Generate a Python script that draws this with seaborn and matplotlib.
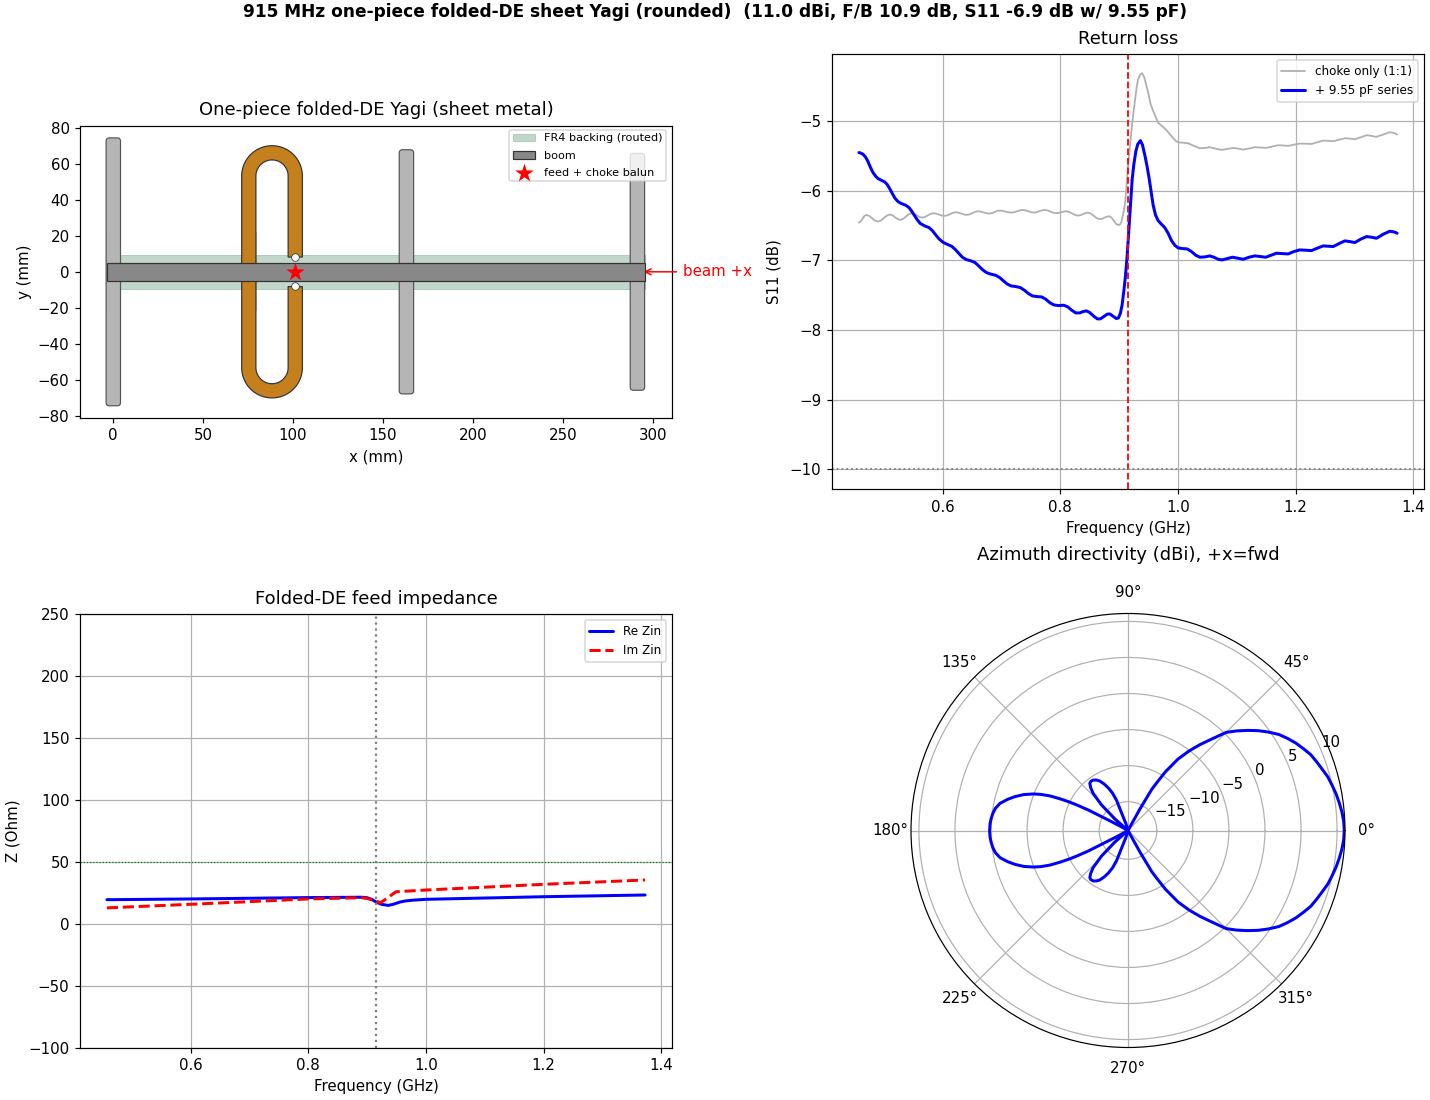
import numpy as np
import matplotlib
matplotlib.use("Agg")
import matplotlib.pyplot as plt
from matplotlib.patches import FancyBboxPatch, Rectangle, PathPatch
from matplotlib.path import Path
import seaborn as sns

W, H, DPI = 1430, 1100, 108

TITLE = "915 MHz one-piece folded-DE sheet Yagi (rounded)  (11.0 dBi, F/B 10.9 dB, S11 -6.9 dB w/ 9.55 pF)"
F0 = 0.915

# straight elements: centre x, half length
elem_x = [0.2, 163.0, 291.3]
elem_half_len = [74.4, 67.8, 65.8]
# routed FR4 pads: left, right
pad_left = [-3.6, 72.0, 158.7, 288.0]
pad_right = [4.5, 79.9, 166.0, 295.7]

# S11 curves
gray_f = [.4575,.4606,.4638,.4669,.470,.475,.480,.485,.490,.495,.500,.505,.510,.5145,.519,.5235,.528,.5328,.5375,.5423,.547,.5515,.556,.5605,.565,.5698,.5745,.5793,.584,
          .5888,.5935,.5983,.603,.6078,.6125,.6173,.622,.6268,.6315,.6363,.641,.6458,.6505,.6553,.660,.6648,.6695,.6743,.679,.6835,.688,.6925,.697,.702,.707,.712,.717,
          .7218,.7265,.7313,.736,.7408,.7455,.7503,.755,.7595,.764,.7685,.773,.778,.783,.788,.793,.797,.8015,.806,.810,.815,.820,.825,.830,.834,.8385,.843,.847,.852,.857,.862,.867,
          .871,.875,.879,.883,.8868,.8905,.8943,.898,.901,.904,.907,.910,.9125,.915,.918,.921,.924,.927,.930,.932,.9355,.939,.9425,.946,.9495,.953,.957,.9605,.966,.973,.980,.986,.992,.996,
          1.000,1.008,1.017,1.027,1.037,1.045,1.054,1.064,1.074,1.084,1.094,1.103,1.111,1.121,1.131,1.140,1.150,1.160,1.170,1.178,1.187,1.197,1.207,1.217,1.227,1.237,1.247,1.255,1.264,1.274,1.284,1.292,1.301,1.311,1.321,1.329,1.337,1.349,1.360,1.367,1.3725]
gray_s = [-6.458,-6.442,-6.403,-6.364,-6.348,-6.362,-6.396,-6.430,-6.444,-6.429,-6.394,-6.358,-6.343,-6.354,-6.382,-6.409,-6.42,-6.406,-6.372,-6.338,-6.324,-6.333,-6.356,-6.378,-6.387,-6.378,-6.356,-6.333,-6.324,
          -6.330,-6.344,-6.357,-6.363,-6.355,-6.337,-6.318,-6.31,-6.316,-6.329,-6.342,-6.348,-6.340,-6.322,-6.304,-6.296,-6.301,-6.313,-6.324,-6.329,-6.323,-6.308,-6.292,-6.286,-6.290,-6.301,-6.311,-6.315,
          -6.309,-6.296,-6.283,-6.277,-6.283,-6.296,-6.309,-6.315,-6.309,-6.296,-6.283,-6.277,-6.284,-6.301,-6.317,-6.324,-6.320,-6.310,-6.300,-6.296,-6.305,-6.327,-6.349,-6.358,-6.352,-6.337,-6.321,-6.315,-6.329,-6.363,-6.396,-6.41,
          -6.404,-6.389,-6.373,-6.367,-6.385,-6.430,-6.474,-6.492,-6.49,-6.444,-6.33,-6.181,-5.93,-5.655,-5.39,-5.129,-4.9,-4.698,-4.5,-4.411,-4.34,-4.316,-4.37,-4.483,-4.6,-4.746,-4.84,-4.914,-5.024,-5.075,-5.129,-5.19,-5.248,-5.285,
          -5.306,-5.313,-5.32,-5.358,-5.392,-5.388,-5.377,-5.398,-5.416,-5.402,-5.387,-5.398,-5.411,-5.395,-5.377,-5.381,-5.387,-5.368,-5.349,-5.352,-5.358,-5.342,-5.325,-5.327,-5.33,-5.306,-5.282,-5.285,-5.291,-5.27,-5.248,-5.254,-5.263,-5.234,-5.205,-5.215,-5.229,-5.195,-5.162,-5.172,-5.196]

blue_f = [.4575,.4600,.4645,.4690,.4730,.4770,.4815,.4860,.4900,.4957,.5013,.5053,.5098,.5144,.5189,.5240,.5297,.5370,.5427,.5473,.5524,.5569,.5620,.5694,.5767,.5824,.5881,.5937,.6005,.6074,.6153,.6210,.6278,.6334,.6402,.6482,.6550,.6606,.6674,.6742,.6822,.6901,.6969,.7026,.7094,.7162,.7241,.7321,.7389,.7457,.7525,.7604,.7684,.7752,.7820,.7888,.7967,.8058,.8126,.8194,.8262,.8330,.8386,.8443,.8500,.8568,.8630,.8681,.8738,.8795,.8840,.8897,.8953,.8987,.9021,.9050,.9078,.9106,.9135,.9163,.9191,.9220,.9248,.9282,.9316,.9361,
          .9396,.9435,.9475,.9509,.9543,.9577,.9617,.9662,.9719,.9775,.9832,.9889,.9945,1.0002,1.0076,1.0155,1.0229,1.0303,1.0371,1.0456,1.0541,1.0609,1.0682,1.0750,1.0835,1.0926,1.1022,1.1108,1.1210,1.1306,1.1402,1.1493,1.1584,1.1674,1.1776,1.1873,1.1969,1.2071,1.2173,1.2270,1.2366,1.2468,1.2553,1.2638,1.2740,1.2837,1.2922,1.3007,1.3103,1.3205,1.3290,1.3375,1.3489,1.3602,1.3670,1.3725]
blue_s = [-5.454,-5.459,-5.478,-5.521,-5.583,-5.664,-5.741,-5.793,-5.827,-5.851,-5.875,-5.908,-5.970,-6.042,-6.109,-6.157,-6.185,-6.209,-6.243,-6.295,-6.362,-6.420,-6.472,-6.506,-6.530,-6.573,-6.635,-6.692,-6.740,-6.769,-6.798,-6.841,-6.903,-6.955,-6.989,-7.008,-7.032,-7.075,-7.132,-7.175,-7.199,-7.214,-7.247,-7.290,-7.338,-7.367,-7.376,-7.391,-7.429,-7.477,-7.510,-7.520,-7.525,-7.558,-7.606,-7.639,-7.649,-7.644,-7.668,-7.716,-7.754,-7.754,-7.735,-7.725,-7.749,-7.802,-7.840,-7.840,-7.806,-7.773,-7.768,-7.802,-7.835,-7.826,-7.759,-7.639,-7.448,-7.233,-6.946,-6.587,-6.205,-5.846,-5.631,-5.440,-5.334,-5.282,
          -5.344,-5.487,-5.655,-5.822,-6.013,-6.205,-6.348,-6.429,-6.482,-6.530,-6.611,-6.716,-6.783,-6.821,-6.831,-6.836,-6.874,-6.927,-6.955,-6.951,-6.936,-6.955,-6.984,-6.994,-6.975,-6.955,-6.970,-6.984,-6.955,-6.936,-6.946,-6.955,-6.927,-6.898,-6.903,-6.908,-6.874,-6.850,-6.855,-6.860,-6.826,-6.793,-6.798,-6.802,-6.759,-6.721,-6.731,-6.745,-6.697,-6.659,-6.668,-6.683,-6.625,-6.582,-6.592,-6.611]

# feed impedance
re_f = [.4575,.6,.8,.89,.90,.908,.916,.925,.936,.945,.955,.965,.98,1.0,1.2,1.3725]
re_z = [19.6,20.2,21.3,21.6,21.2,19.8,17.5,15.8,15.0,16.0,17.6,18.6,19.3,19.9,22.0,23.4]
im_f = [.4575,.6,.8,.89,.90,.923,.949,1.0,1.2,1.3725]
im_z = [13.0,15.9,20.2,21.2,20.6,17.2,26.0,27.4,32.0,35.5]

# azimuth pattern, upper half (mirrored about 0 deg)
az_deg = [0,2.5,5,7.5,10,12.5,15,17.5,20,22.5,25,27.5,30,32.5,35,37.5,40,42.5,45,47.5,50,52.5,55,57.5,59,60,61,62,
          105,107,109.7,110.8,112.5,114.6,117,119.7,122,124.6,127,129,131,133.2,136,138.8,143,
          150,151,152,152.7,153.5,154.2,155,156.1,157.5,158.9,161,163.3,165.5,168,170.5,172.8,175,177,180]
az_dbi = [11.0,10.94,10.78,10.55,10.3,10.0,9.7,9.25,8.85,8.45,7.85,7.25,6.55,5.8,4.8,3.75,2.6,1.45,0.24,-1.78,-3.44,-5.1,-6.9,-9.35,-11.3,-12.4,-15.6,-19,
          -19,-18,-16.94,-14.5,-13.4,-12.57,-11.8,-11.1,-10.75,-10.5,-10.45,-10.58,-11.1,-11.93,-13.88,-16.55,-19,
          -19,-17.5,-15.87,-12.78,-11.0,-9.78,-8.6,-7.16,-5.9,-4.92,-3.7,-2.64,-1.75,-0.86,-0.35,-0.1,0.05,0.15,0.2]

sns.set_style("white", {"axes.grid": False, "xtick.bottom": True, "ytick.left": True,
                        "axes.edgecolor": "black", "font.family": ["DejaVu Sans"],
                        "text.color": "black", "axes.labelcolor": "black",
                        "xtick.color": "black", "ytick.color": "black",
                        "grid.color": "#b0b0b0"})
plt.rcParams["font.family"] = ["DejaVu Sans"]

fig = plt.figure(figsize=(W / DPI, H / DPI), dpi=DPI)


def box(x0, y0, x1, y1, **kw):
    return fig.add_axes([x0 / W, 1 - y1 / H, (x1 - x0) / W, (y1 - y0) / H], **kw)


# ---------- geometry panel
ax1 = box(80, 126, 672, 418)
ELEM_W = 8.0
FR4 = "#307d52"
ax1.add_patch(Rectangle((-3.5, -9.3), 299, 18.6, fc=FR4, ec=FR4, lw=0.6, alpha=0.3, zorder=1, label="FR4 backing (routed)"))
for x0, x1 in zip(pad_left, pad_right):
    ax1.add_patch(Rectangle((x0, -22), x1 - x0, 44, fc=FR4, ec="none", alpha=0.3, zorder=1))
for cx, hl in zip(elem_x, elem_half_len):
    ax1.add_patch(FancyBboxPatch((cx - ELEM_W / 2 + 1.8, -hl + 1.8), ELEM_W - 3.6, 2 * hl - 3.6,
                                 boxstyle="round,pad=1.8", fc="#b5b5b5", ec="#555555", lw=0.8, zorder=2))


def folded_path(cx=88.35, r_out=16.85, r_in=8.95, y_str=53.2, gap=8.2):
    t = np.linspace(0, np.pi, 60)
    rx = cx + r_out
    ri = cx + r_in
    pts = np.r_[[[rx, gap]],
                np.c_[cx + r_out * np.cos(t), y_str + r_out * np.sin(t)],
                np.c_[cx + r_out * np.cos(t[::-1]), -y_str - r_out * np.sin(t[::-1])],
                [[rx, -gap], [ri, -gap]],
                np.c_[cx + r_in * np.cos(t), -y_str - r_in * np.sin(t)],
                np.c_[cx + r_in * np.cos(t[::-1]), y_str + r_in * np.sin(t[::-1])],
                [[ri, gap], [rx, gap]]]
    return Path(pts, closed=True)


ax1.add_patch(PathPatch(folded_path(), fc="#c67f1d", ec="#333333", lw=0.8, zorder=3))
ax1.add_patch(Rectangle((-3.5, -5), 299, 10, fc="#888888", ec="#333333", lw=0.8, zorder=4, label="boom"))
sns.scatterplot(x=[101.3, 101.3], y=[8.0, -8.0], s=26, color="white", edgecolor="#333333", linewidth=0.5, zorder=5, ax=ax1)
sns.scatterplot(x=[101.3], y=[0.0], marker="*", s=170, color="red", linewidth=0, zorder=6, ax=ax1, label="feed + choke balun")
ax1.annotate("beam +x", xy=(293, 0), xytext=(316.7, 0), color="red", fontsize=10, va="center",
             annotation_clip=False, arrowprops=dict(arrowstyle="->", color="red", lw=1))
ax1.set_xlim(-18.3, 310.5)
ax1.set_ylim(-81.2, 81.0)
ax1.set_aspect("equal", adjustable="datalim")
ax1.set_xticks(range(0, 301, 50))
ax1.set_yticks(range(-80, 81, 20))
ax1.set_xlabel("x (mm)")
ax1.set_ylabel("y (mm)")
ax1.set_title("One-piece folded-DE Yagi (sheet metal)", pad=7.5)
ax1.legend(loc="upper right", fontsize=7.5, bbox_to_anchor=(0.99, 0.9863), borderaxespad=0,
           borderpad=0.3, labelspacing=0.65)

# ---------- return loss
ax2 = box(832, 54, 1424, 489)
ax2.grid(True, color="#b0b0b0", lw=0.8)
ax2.set_axisbelow(True)
sns.lineplot(x=gray_f, y=gray_s, color="#b0b0b0", lw=1.2, sort=False, estimator=None, errorbar=None, ax=ax2, label="choke only (1:1)")
sns.lineplot(x=blue_f, y=blue_s, color="blue", lw=2, sort=False, estimator=None, errorbar=None, ax=ax2, label="+ 9.55 pF series")
ax2.axvline(F0, color="red", ls="--", lw=1.2)
ax2.axhline(-10, color="gray", ls=":", lw=1.2)
ax2.set_xlim(0.4118, 1.4182)
ax2.set_ylim(-10.28, -4.04)
ax2.set_xticks([0.6, 0.8, 1.0, 1.2, 1.4])
ax2.set_yticks([-10, -9, -8, -7, -6, -5])
ax2.set_xlabel("Frequency (GHz)")
ax2.set_ylabel("S11 (dB)", labelpad=5.3)
ax2.set_title("Return loss", pad=6.7)
ax2.legend(loc="upper right", fontsize=8)

# ---------- impedance
ax3 = box(80, 614, 672, 1048)
ax3.grid(True, color="#b0b0b0", lw=0.8)
ax3.set_axisbelow(True)
sns.lineplot(x=re_f, y=re_z, color="blue", lw=2, sort=False, estimator=None, errorbar=None, ax=ax3, label="Re Zin")
sns.lineplot(x=im_f, y=im_z, color="red", lw=2, ls="--", sort=False, estimator=None, errorbar=None, ax=ax3, label="Im Zin")
ax3.axhline(50, color="green", ls=":", lw=0.8)
ax3.axvline(F0, color="gray", ls=":", lw=1.5)
ax3.set_xlim(0.4118, 1.4182)
ax3.set_ylim(-100, 250)
ax3.set_xticks([0.6, 0.8, 1.0, 1.2, 1.4])
ax3.set_xlabel("Frequency (GHz)")
ax3.set_ylabel("Z (Ohm)", labelpad=5.3)
ax3.set_title("Folded-DE feed impedance", pad=6.7)
ax3.legend(loc="upper right", fontsize=8)

# ---------- polar
ax4 = box(911, 613.5, 1345, 1047.5, projection="polar")
ax4.grid(True, color="#b0b0b0", lw=0.8)
up = np.radians(az_deg)
theta = np.r_[up, 2 * np.pi - up[::-1]]
dbi = np.r_[az_dbi, az_dbi[::-1]]
sns.lineplot(x=theta, y=dbi, color="blue", lw=2, sort=False, estimator=None, errorbar=None, ax=ax4)
ax4.set_rlim(-19, 11.1)
ax4.set_rticks([-15, -10, -5, 0, 5, 10])
ax4.set_xlabel("")
ax4.set_ylabel("")
ax4.set_title("Azimuth directivity (dBi), +x=fwd", pad=36)

fig.suptitle(TITLE, fontsize=11.3, fontweight="bold", x=715 / W, y=1 - 12 / H, va="center")
fig.savefig("out.png", dpi=DPI)
